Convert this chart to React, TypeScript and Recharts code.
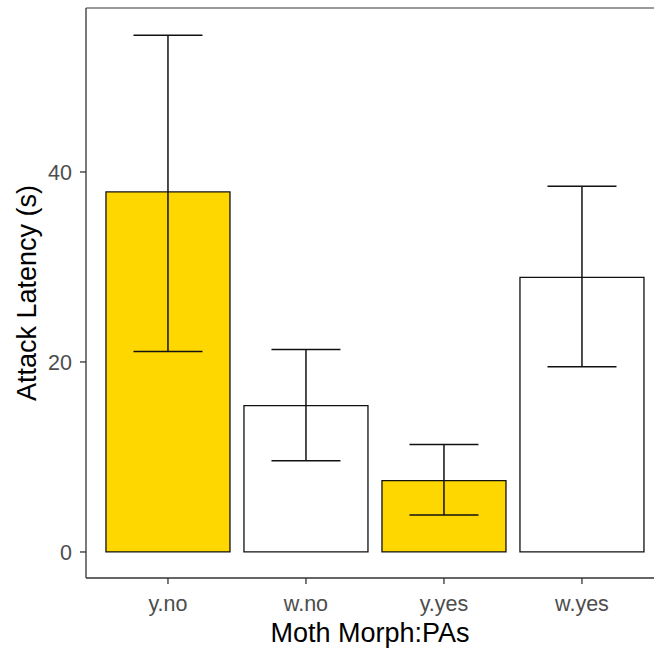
import { BarChart, Bar, XAxis, YAxis, ErrorBar, Cell, ReferenceLine, Label } from 'recharts'

// group labels (morph.PAs) and mean attack latency with error range
const categories = ['y.no', 'w.no', 'y.yes', 'w.yes']
const means = [37.9, 15.4, 7.5, 28.9]
const lowers = [21.1, 9.6, 3.9, 19.5]
const uppers = [54.4, 21.3, 11.3, 38.5]
const yTicks = [0, 20, 40]

const data = categories.map((name, i) => ({
  idx: i + 1,
  name,
  value: means[i],
  err: [means[i] - lowers[i], uppers[i] - means[i]],
}))

const Y_MIN = -2.74
const Y_MAX = 57.26
const FONT = 'Liberation Sans, Arial, sans-serif'

if (typeof document !== 'undefined') document.body.style.margin = '0'

const fillFor = (name: string) => (name.startsWith('y') ? '#FFD700' : '#FFFFFF')

export default function App() {
  return (
    <BarChart
      width={654}
      height={651}
      data={data}
      margin={{ top: 8, right: 0, bottom: 0, left: 0 }}
      style={{ background: '#fff' }}
    >
      <ReferenceLine y={Y_MAX} stroke="#7a7a7a" strokeWidth={1.3} />
      <XAxis
        dataKey="idx"
        type="number"
        domain={[0.406, 4.522]}
        ticks={[1, 2, 3, 4]}
        allowDataOverflow
        tickFormatter={(v) => categories[v - 1]}
        height={73}
        stroke="#333"
        strokeWidth={1.3}
        tickSize={6}
        tick={{ fill: '#4D4D4D', fontSize: 21.5, fontFamily: FONT }}
        tickMargin={12}
      >
        <Label
          value="Moth Morph:PAs"
          position="insideBottom"
          offset={9}
          style={{ fill: '#000', fontSize: 27, fontFamily: FONT }}
        />
      </XAxis>
      <YAxis
        type="number"
        domain={[Y_MIN, Y_MAX]}
        ticks={yTicks}
        allowDataOverflow
        width={86}
        stroke="#333"
        strokeWidth={1.3}
        tickSize={6}
        tick={{ fill: '#4D4D4D', fontSize: 21.5, fontFamily: FONT }}
        tickMargin={8}
      >
        <Label
          value="Attack Latency (s)"
          angle={-90}
          position="insideLeft"
          offset={26}
          style={{ textAnchor: 'middle', fill: '#000', fontSize: 27, fontFamily: FONT }}
        />
      </YAxis>
      <Bar dataKey="value" barSize={124} stroke="#111" strokeWidth={1.3} isAnimationActive={false}>
        {data.map((d) => (
          <Cell key={d.name} fill={fillFor(d.name)} />
        ))}
        <ErrorBar dataKey="err" width={34.5} stroke="#111" strokeWidth={1.5} isAnimationActive={false} />
      </Bar>
    </BarChart>
  )
}
